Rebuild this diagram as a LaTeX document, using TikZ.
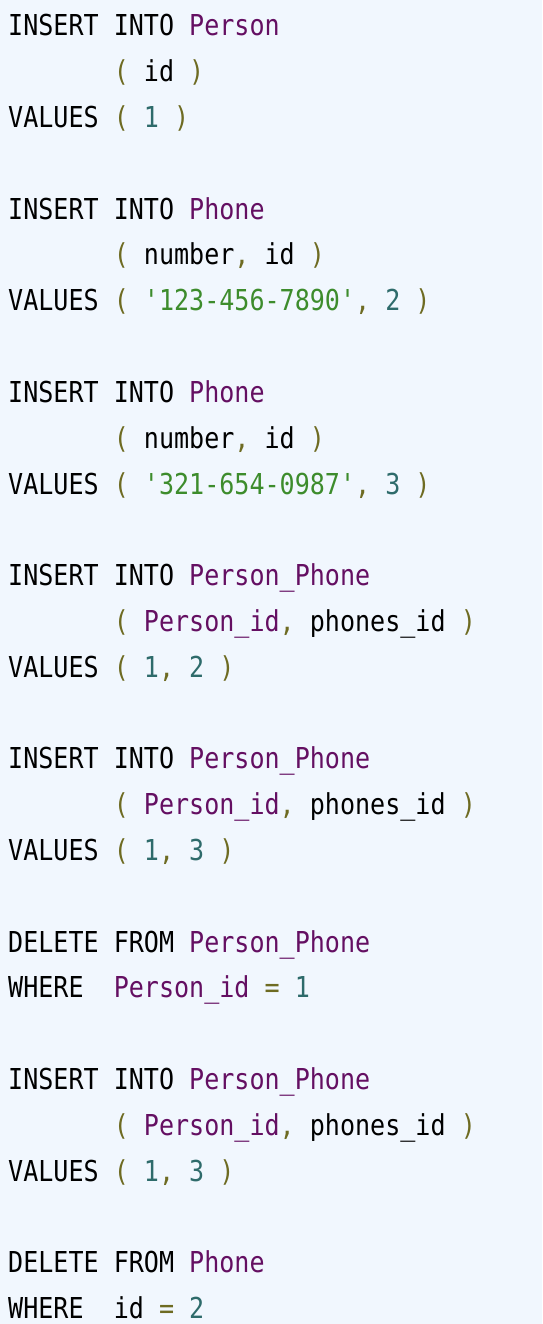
\documentclass[tikz,border=0pt]{standalone}
\usepackage{fontspec}
\newfontfamily\codefont[FakeStretch=0.87]{DejaVu Sans Mono}
\definecolor{bgc}{HTML}{F1F7FE}
\definecolor{tblc}{HTML}{640F62}
\definecolor{parc}{HTML}{6E6B22}
\definecolor{numc}{HTML}{2E6B6B}
\definecolor{strc}{HTML}{3D8C2C}
\newcommand{\sqlT}[1]{\textcolor{tblc}{#1}}
\newcommand{\sqlP}[1]{\textcolor{parc}{#1}}
\newcommand{\sqlN}[1]{\textcolor{numc}{#1}}
\newcommand{\sqlS}[1]{\textcolor{strc}{#1}}
\newcommand{\sqlQ}{\char39\relax}
\newcommand{\sqlI}{\phantom{0000000}}
\begin{document}
\begin{tikzpicture}[x=1pt,y=1pt,
  codeline/.style={anchor=base west,inner sep=0pt,font=\codefont\fontsize{28.8}{30}\selectfont}]
\fill[bgc] (0,0) rectangle (542,-1324);
\useasboundingbox (0,0) rectangle (542,-1324);
\def\LH{45.8}
\def\BY{36}
\node[codeline] (l0) at (8,{-(\BY+0*\LH)}) {INSERT INTO \sqlT{Person}};
\node[codeline] (l1) at (8,{-(\BY+1*\LH)}) {\sqlI\sqlP{(} id \sqlP{)}};
\node[codeline] (l2) at (8,{-(\BY+2*\LH)}) {VALUES \sqlP{(} \sqlN{1} \sqlP{)}};
\node[codeline] (l4) at (8,{-(\BY+4*\LH)}) {INSERT INTO \sqlT{Phone}};
\node[codeline] (l5) at (8,{-(\BY+5*\LH)}) {\sqlI\sqlP{(} number\sqlP{,} id \sqlP{)}};
\node[codeline] (l6) at (8,{-(\BY+6*\LH)}) {VALUES \sqlP{(} \sqlS{\sqlQ 123-456-7890\sqlQ}\sqlP{,} \sqlN{2} \sqlP{)}};
\node[codeline] (l8) at (8,{-(\BY+8*\LH)}) {INSERT INTO \sqlT{Phone}};
\node[codeline] (l9) at (8,{-(\BY+9*\LH)}) {\sqlI\sqlP{(} number\sqlP{,} id \sqlP{)}};
\node[codeline] (l10) at (8,{-(\BY+10*\LH)}) {VALUES \sqlP{(} \sqlS{\sqlQ 321-654-0987\sqlQ}\sqlP{,} \sqlN{3} \sqlP{)}};
\node[codeline] (l12) at (8,{-(\BY+12*\LH)}) {INSERT INTO \sqlT{Person\_Phone}};
\node[codeline] (l13) at (8,{-(\BY+13*\LH)}) {\sqlI\sqlP{(} \sqlT{Person\_id}\sqlP{,} phones\_id \sqlP{)}};
\node[codeline] (l14) at (8,{-(\BY+14*\LH)}) {VALUES \sqlP{(} \sqlN{1}\sqlP{,} \sqlN{2} \sqlP{)}};
\node[codeline] (l16) at (8,{-(\BY+16*\LH)}) {INSERT INTO \sqlT{Person\_Phone}};
\node[codeline] (l17) at (8,{-(\BY+17*\LH)}) {\sqlI\sqlP{(} \sqlT{Person\_id}\sqlP{,} phones\_id \sqlP{)}};
\node[codeline] (l18) at (8,{-(\BY+18*\LH)}) {VALUES \sqlP{(} \sqlN{1}\sqlP{,} \sqlN{3} \sqlP{)}};
\node[codeline] (l20) at (8,{-(\BY+20*\LH)}) {DELETE FROM \sqlT{Person\_Phone}};
\node[codeline] (l21) at (8,{-(\BY+21*\LH)}) {WHERE\phantom{00}\sqlT{Person\_id} \sqlP{=} \sqlN{1}};
\node[codeline] (l23) at (8,{-(\BY+23*\LH)}) {INSERT INTO \sqlT{Person\_Phone}};
\node[codeline] (l24) at (8,{-(\BY+24*\LH)}) {\sqlI\sqlP{(} \sqlT{Person\_id}\sqlP{,} phones\_id \sqlP{)}};
\node[codeline] (l25) at (8,{-(\BY+25*\LH)}) {VALUES \sqlP{(} \sqlN{1}\sqlP{,} \sqlN{3} \sqlP{)}};
\node[codeline] (l27) at (8,{-(\BY+27*\LH)}) {DELETE FROM \sqlT{Phone}};
\node[codeline] (l28) at (8,{-(\BY+28*\LH)}) {WHERE\phantom{00}id \sqlP{=} \sqlN{2}};
\end{tikzpicture}
\end{document}
